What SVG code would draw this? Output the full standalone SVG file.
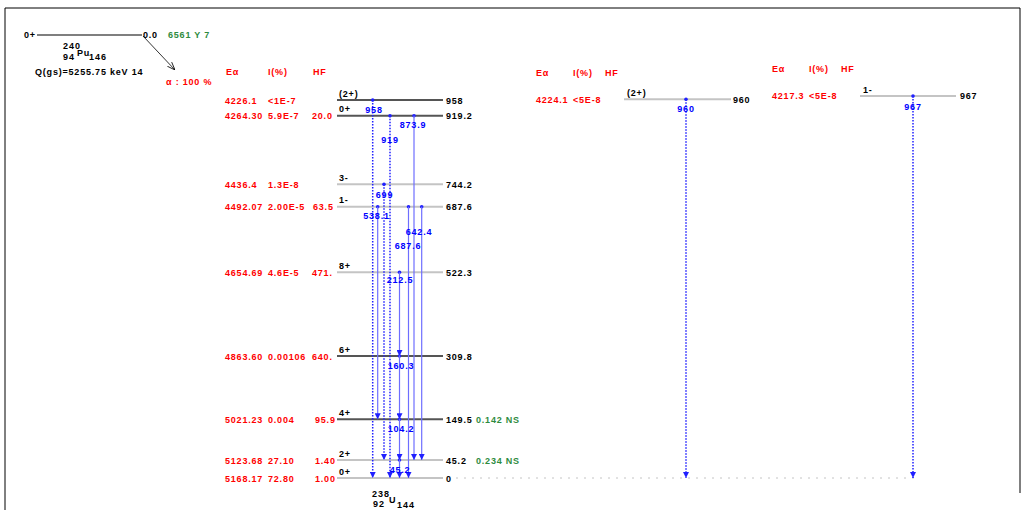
<svg xmlns="http://www.w3.org/2000/svg" width="1025" height="510" viewBox="0 0 1025 510">
<style>
text{font-family:"Liberation Sans",Arial,sans-serif;font-weight:bold;font-size:9px;letter-spacing:0.8px}
.r{fill:#ff0000}.k{fill:#000}.g{fill:#2e8b3e}.b{fill:#0000ff}
.dk{stroke:#555;stroke-width:2}.lt{stroke:#c4c4c4;stroke-width:2}
.dot{stroke:#2020ff;stroke-width:1.5;stroke-dasharray:1.5 1.5;fill:none}
.sol{stroke:#6e6eff;stroke-width:1.2;fill:none}
.m{text-anchor:middle}
.s{font-size:9px;letter-spacing:1px}
</style>
<defs>
<marker id="ah" viewBox="0 0 6 6" refX="6" refY="3" markerWidth="6" markerHeight="6" markerUnits="userSpaceOnUse" orient="auto">
<path d="M0,0 L6,3 L0,6 Z" fill="#2020ff"/>
</marker>
<marker id="pa" viewBox="0 0 8 8" refX="8" refY="4" markerWidth="8" markerHeight="8" markerUnits="userSpaceOnUse" orient="auto">
<path d="M0,1 L8,4 L0,7" fill="none" stroke="#000" stroke-width="0.8"/>
</marker>
</defs>
<rect width="1025" height="510" fill="#fff"/>
<g id="frame" stroke="#000" stroke-width="1" fill="none">
<path d="M5,510 V8 H1020 V493"/>
</g>
<g id="parent">
<line x1="37" y1="35" x2="142" y2="35" stroke="#000" stroke-width="1.2"/>
<text x="24" y="38" class="k">0+</text>
<text x="143" y="38" class="k">0.0</text>
<text x="168" y="38" class="g">6561 Y 7</text>
<text x="63" y="49" class="k s">240</text>
<text x="77" y="56" class="k">Pu</text>
<text x="63" y="60" class="k s">94</text>
<text x="89" y="60" class="k s">146</text>
<text x="35" y="75" class="k">Q(gs)=5255.75 keV 14</text>
<line x1="143" y1="36" x2="175" y2="70" stroke="#000" stroke-width="0.8" marker-end="url(#pa)"/>
<text x="166" y="85" class="r">α : 100 %</text>
</g>
<g id="headers">
<text x="226" y="75" class="r">Eα</text><text x="268" y="75" class="r">I(%)</text><text x="313" y="75" class="r">HF</text>
<text x="536" y="76" class="r">Eα</text><text x="573" y="76" class="r">I(%)</text><text x="605" y="76" class="r">HF</text>
<text x="772" y="72" class="r">Eα</text><text x="809" y="72" class="r">I(%)</text><text x="841" y="72" class="r">HF</text>
</g>
<g id="level-958">
<line x1="337" y1="100" x2="443" y2="100" class="dk"/>
<text x="339" y="97" class="k">(2+)</text><text x="446" y="103.5" class="k">958</text>
<text x="225" y="103.5" class="r">4226.1</text><text x="268" y="103.5" class="r">&lt;1E-7</text>
</g>
<g id="level-919">
<line x1="337" y1="115.7" x2="443" y2="115.7" class="dk"/>
<text x="339" y="112" class="k">0+</text><text x="446" y="119" class="k">919.2</text>
<text x="225" y="119" class="r">4264.30</text><text x="268" y="119" class="r">5.9E-7</text><text x="312" y="119" class="r">20.0</text>
</g>
<g id="level-744">
<line x1="337" y1="184.3" x2="443" y2="184.3" class="lt"/>
<text x="339" y="181" class="k">3-</text><text x="446" y="187.5" class="k">744.2</text>
<text x="225" y="187.5" class="r">4436.4</text><text x="268" y="187.5" class="r">1.3E-8</text>
</g>
<g id="level-687">
<line x1="337" y1="206.7" x2="443" y2="206.7" class="lt"/>
<text x="339" y="203" class="k">1-</text><text x="446" y="210" class="k">687.6</text>
<text x="225" y="210" class="r">4492.07</text><text x="268" y="210" class="r">2.00E-5</text><text x="313" y="210" class="r">63.5</text>
</g>
<g id="level-522">
<line x1="337" y1="272.3" x2="443" y2="272.3" class="lt"/>
<text x="339" y="269" class="k">8+</text><text x="446" y="275.5" class="k">522.3</text>
<text x="225" y="275.5" class="r">4654.69</text><text x="268" y="275.5" class="r">4.6E-5</text><text x="312" y="275.5" class="r">471.</text>
</g>
<g id="level-309">
<line x1="337" y1="356" x2="443" y2="356" class="dk"/>
<text x="339" y="352.5" class="k">6+</text><text x="446" y="359.5" class="k">309.8</text>
<text x="225" y="359.5" class="r">4863.60</text><text x="268" y="359.5" class="r">0.00106</text><text x="312" y="359.5" class="r">640.</text>
</g>
<g id="level-149">
<line x1="337" y1="419.3" x2="443" y2="419.3" class="dk"/>
<text x="339" y="416" class="k">4+</text><text x="446" y="422.5" class="k">149.5</text>
<text x="476" y="422.5" class="g">0.142 NS</text>
<text x="225" y="422.5" class="r">5021.23</text><text x="268" y="422.5" class="r">0.004</text><text x="315" y="422.5" class="r">95.9</text>
</g>
<g id="level-45">
<line x1="337" y1="460" x2="443" y2="460" class="lt"/>
<text x="339" y="456.5" class="k">2+</text><text x="446" y="463.5" class="k">45.2</text>
<text x="476" y="463.5" class="g">0.234 NS</text>
<text x="225" y="463.5" class="r">5123.68</text><text x="268" y="463.5" class="r">27.10</text><text x="315" y="463.5" class="r">1.40</text>
</g>
<g id="level-0">
<line x1="337" y1="478" x2="443" y2="478" class="lt"/>
<line x1="456" y1="478" x2="920" y2="478" stroke="#c4c4c4" stroke-width="1" stroke-dasharray="2 6"/>
<text x="339" y="474.5" class="k">0+</text><text x="446" y="481.5" class="k">0</text>
<text x="225" y="481.5" class="r">5168.17</text><text x="268" y="481.5" class="r">72.80</text><text x="315" y="481.5" class="r">1.00</text>
</g>
<g id="daughter">
<text x="372" y="497" class="k s">238</text>
<text x="389" y="503" class="k">U</text>
<text x="373" y="507" class="k s">92</text>
<text x="397" y="508" class="k s">144</text>
</g>
<g id="level-960">
<line x1="624" y1="99.3" x2="731" y2="99.3" class="lt"/>
<text x="627" y="96" class="k">(2+)</text><text x="733" y="102.5" class="k">960</text>
<text x="536" y="102.5" class="r">4224.1</text><text x="573" y="102.5" class="r">&lt;5E-8</text>
</g>
<g id="level-967">
<line x1="860" y1="96" x2="956" y2="96" class="lt"/>
<text x="863" y="93" class="k">1-</text><text x="960" y="99" class="k">967</text>
<text x="772" y="99" class="r">4217.3</text><text x="809" y="99" class="r">&lt;5E-8</text>
</g>
<g id="connectors">
<g fill="#2020ff">
<circle cx="372.7" cy="100" r="1.8"/><circle cx="390" cy="115.7" r="1.8"/><circle cx="414" cy="115.7" r="1.8"/>
<circle cx="384" cy="184.3" r="1.8"/><circle cx="377.7" cy="206.7" r="1.8"/><circle cx="408.5" cy="206.7" r="1.8"/>
<circle cx="421.7" cy="206.7" r="1.8"/><circle cx="399.5" cy="272.3" r="1.8"/><circle cx="399.5" cy="356" r="1.8"/>
<circle cx="399.5" cy="419.3" r="1.8"/><circle cx="399.5" cy="460" r="1.8"/>
<circle cx="686" cy="99.3" r="1.8"/><circle cx="913" cy="96" r="1.8"/>
</g>
<line x1="372.7" y1="100" x2="372.7" y2="478" class="dot" marker-end="url(#ah)"/>
<line x1="390" y1="115.7" x2="390" y2="478" class="dot" marker-end="url(#ah)"/>
<line x1="414" y1="115.7" x2="414" y2="460" class="sol" marker-end="url(#ah)"/>
<line x1="384" y1="184.3" x2="384" y2="460" class="dot" marker-end="url(#ah)"/>
<line x1="377.7" y1="206.7" x2="377.7" y2="419.3" class="sol" marker-end="url(#ah)"/>
<line x1="408.5" y1="206.7" x2="408.5" y2="478" class="sol" marker-end="url(#ah)"/>
<line x1="421.7" y1="206.7" x2="421.7" y2="460" class="sol" marker-end="url(#ah)"/>
<line x1="399.5" y1="272.3" x2="399.5" y2="356" class="sol" marker-end="url(#ah)"/>
<line x1="399.5" y1="356" x2="399.5" y2="419.3" class="sol" marker-end="url(#ah)"/>
<line x1="399.5" y1="419.3" x2="399.5" y2="460" class="sol" marker-end="url(#ah)"/>
<line x1="399.5" y1="460" x2="399.5" y2="478" class="sol" marker-end="url(#ah)"/>
<line x1="686" y1="99.3" x2="686" y2="478" class="dot" marker-end="url(#ah)"/>
<line x1="913" y1="96" x2="913" y2="478" class="dot" marker-end="url(#ah)"/>
<g>
<text x="374" y="113" class="b m">958</text>
<text x="390" y="143" class="b m">919</text>
<text x="413" y="128" class="b m">873.9</text>
<text x="384.5" y="198" class="b m">699</text>
<text x="376.5" y="219" class="b m">538.1</text>
<text x="419" y="235" class="b m">642.4</text>
<text x="408" y="249" class="b m">687.6</text>
<text x="400" y="283" class="b m">212.5</text>
<text x="401" y="369" class="b m">160.3</text>
<text x="401" y="432" class="b m">104.2</text>
<text x="400" y="473" class="b m">45.2</text>
<text x="686" y="112" class="b m">960</text>
<text x="913" y="109.5" class="b m">967</text>
</g>
</g>
</svg>
